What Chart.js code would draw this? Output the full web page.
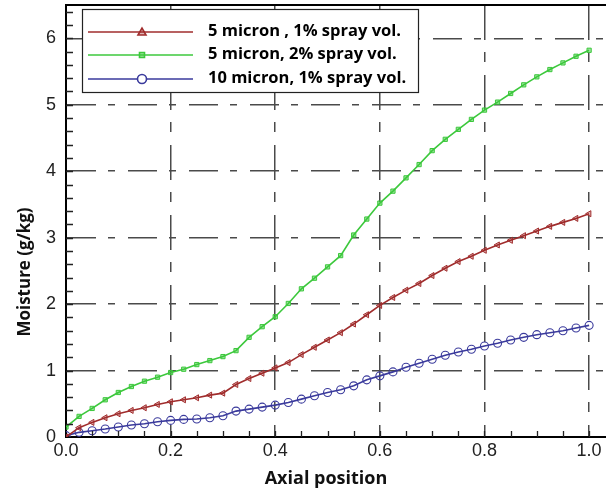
<!DOCTYPE html>
<html>
<head>
<meta charset="utf-8">
<script src="https://cdn.jsdelivr.net/npm/chart.js@4.4.1/dist/chart.umd.min.js"></script>
<style>
  html, body { margin: 0; padding: 0; background: #fff; overflow: hidden; }
  #wrap { width: 612px; height: 493px; }
</style>
</head>
<body>
<div id="wrap"><canvas id="moistureChart"></canvas></div>
<script>
// axial position of the samples (same for the three runs)
const axialPos = [0, 0.025, 0.05, 0.075, 0.1, 0.125, 0.15, 0.175, 0.2, 0.225,
  0.25, 0.275, 0.3, 0.325, 0.35, 0.375, 0.4, 0.425, 0.45, 0.475,
  0.5, 0.525, 0.55, 0.575, 0.6, 0.625, 0.65, 0.675, 0.7, 0.725,
  0.75, 0.775, 0.8, 0.825, 0.85, 0.875, 0.9, 0.925, 0.95, 0.975, 1.0];

// moisture in g/kg
const moist5um1pct = [0.00, 0.14, 0.22, 0.29, 0.35, 0.40, 0.44, 0.49, 0.53, 0.56,
  0.59, 0.63, 0.66, 0.79, 0.88, 0.96, 1.04, 1.12, 1.24, 1.35,
  1.46, 1.57, 1.70, 1.84, 1.98, 2.10, 2.21, 2.31, 2.43, 2.54,
  2.64, 2.72, 2.81, 2.89, 2.96, 3.03, 3.10, 3.17, 3.23, 3.29, 3.36];
const moist5um2pct = [0.15, 0.31, 0.43, 0.56, 0.67, 0.76, 0.84, 0.90, 0.97, 1.02,
  1.09, 1.15, 1.21, 1.30, 1.50, 1.66, 1.81, 2.01, 2.23, 2.39,
  2.56, 2.73, 3.04, 3.28, 3.52, 3.70, 3.90, 4.10, 4.31, 4.48,
  4.63, 4.78, 4.92, 5.04, 5.17, 5.30, 5.42, 5.53, 5.63, 5.73, 5.82];
const moist10um1pct = [0.02, 0.07, 0.095, 0.12, 0.15, 0.18, 0.20, 0.23, 0.25, 0.265,
  0.27, 0.29, 0.32, 0.39, 0.42, 0.45, 0.48, 0.52, 0.57, 0.62,
  0.67, 0.71, 0.77, 0.86, 0.92, 0.98, 1.05, 1.11, 1.17, 1.23,
  1.28, 1.32, 1.37, 1.41, 1.46, 1.50, 1.54, 1.57, 1.60, 1.64, 1.68];

const seriesNames = ['5 micron , 1% spray vol.', '5 micron, 2% spray vol.', '10 micron, 1% spray vol.'];
const xMajorTicks = [0, 0.2, 0.4, 0.6, 0.8, 1.0];
const yMajorTicks = [0, 1, 2, 3, 4, 5, 6];
const xTitle = 'Axial position';
const yTitle = 'Moisture (g/kg)';

const RED = '#a02c2c', GREEN = '#3cc83c', BLUE = '#3a3a9c';

function pts(ys) {
  return axialPos.map((x, i) => ({ x: x, y: ys[i] }));
}

// small inward ticks, top frame, titles and the boxed legend
const decorPlugin = {
  id: 'decor',
  afterDraw(chart) {
    const ctx = chart.ctx;
    const area = chart.chartArea;
    const xs = chart.scales.x, ys = chart.scales.y;
    ctx.save();
    ctx.strokeStyle = '#222';
    ctx.lineWidth = 1.3;
    ctx.beginPath();
    for (let v = 0.05; v < xs.max; v += 0.05) {
      const px = Math.round(xs.getPixelForValue(v)) + 0.5;
      ctx.moveTo(px, area.bottom);
      ctx.lineTo(px, area.bottom - 6);
    }
    for (let v = 0.2; v < ys.max; v += 0.2) {
      const py = Math.round(ys.getPixelForValue(v)) + 0.5;
      ctx.moveTo(area.left, py);
      ctx.lineTo(area.left + 7, py);
    }
    ctx.stroke();

    // top frame
    ctx.strokeStyle = '#000';
    ctx.lineWidth = 2;
    ctx.beginPath();
    ctx.moveTo(area.left, area.top);
    ctx.lineTo(area.right, area.top);
    ctx.stroke();

    // axis titles
    ctx.fillStyle = '#111';
    ctx.font = 'bold 18px "Open Sans"';
    ctx.textAlign = 'center';
    ctx.textBaseline = 'middle';
    ctx.fillText(xTitle, 326, 479);
    ctx.font = 'bold 17px "Open Sans"';
    ctx.translate(25, 272);
    ctx.rotate(-Math.PI / 2);
    ctx.fillText(yTitle, 0, 0);
    ctx.setTransform(1, 0, 0, 1, 0, 0);

    // legend
    const bx = 82, by = 9, bw = 336, bh = 83;
    ctx.fillStyle = '#fff';
    ctx.fillRect(bx, by, bw, bh);
    ctx.strokeStyle = '#222';
    ctx.lineWidth = 1.2;
    ctx.strokeRect(bx + 0.5, by + 0.5, bw, bh);
    const rows = [32, 55, 79];
    chart.data.datasets.forEach((ds, i) => {
      const y = rows[i];
      ctx.strokeStyle = ds.borderColor;
      ctx.lineWidth = 1.6;
      ctx.beginPath();
      ctx.moveTo(88, y);
      ctx.lineTo(193, y);
      ctx.stroke();
      ctx.fillStyle = ds.pointBackgroundColor;
      ctx.beginPath();
      if (ds.pointStyle === 'triangle') {
        ctx.moveTo(138, y + 3); ctx.lineTo(142, y - 4); ctx.lineTo(146, y + 3); ctx.closePath();
        ctx.fill(); ctx.stroke();
      } else if (ds.pointStyle === 'rect') {
        ctx.rect(139.5, y - 2.5, 5, 5);
        ctx.fill(); ctx.stroke();
      } else {
        ctx.fillStyle = '#fff';
        ctx.arc(142, y, 4.5, 0, Math.PI * 2);
        ctx.fill(); ctx.stroke();
      }
      ctx.fillStyle = '#000';
      ctx.font = 'bold 16.5px "Open Sans"';
      ctx.textAlign = 'left';
      ctx.textBaseline = 'middle';
      ctx.fillText(ds.label, 208, y - 1);
    });
    ctx.restore();
  }
};

const gridLine = { color: '#4a4a4a', lineWidth: 1.5, drawTicks: false, tickLength: 0 };
const tickFont = { family: '"Liberation Sans", Arial', size: 18 };

new Chart(document.getElementById('moistureChart'), {
  type: 'scatter',
  data: {
    datasets: [
      { label: seriesNames[0], data: pts(moist5um1pct), showLine: true, borderColor: RED,
        pointStyle: 'triangle', rotation: -90, pointRadius: 3.5, pointBorderWidth: 1,
        pointBackgroundColor: 'rgba(160,44,44,0.35)', borderWidth: 1.6 },
      { label: seriesNames[1], data: pts(moist5um2pct), showLine: true, borderColor: GREEN,
        pointStyle: 'rect', pointRadius: 3, pointBorderWidth: 1,
        pointBackgroundColor: 'rgba(60,200,60,0.5)', borderWidth: 1.6 },
      { label: seriesNames[2], data: pts(moist10um1pct), showLine: true, borderColor: BLUE,
        pointStyle: 'circle', pointRadius: 4, pointBorderWidth: 1.1,
        pointBackgroundColor: 'rgba(255,255,255,0)', borderWidth: 1.6 }
    ]
  },
  options: {
    responsive: true,
    maintainAspectRatio: false,
    animation: false,
    layout: { padding: { top: 5, right: 0, left: 0, bottom: 0 } },
    plugins: { legend: { display: false }, tooltip: { enabled: false } },
    scales: {
      x: {
        type: 'linear', min: 0, max: 1.034,
        afterBuildTicks: s => { s.ticks = xMajorTicks.map(v => ({ value: v })); },
        afterFit: s => { s.height = 56; s.paddingLeft = 0; s.paddingRight = 0; },
        grid: gridLine,
        border: { color: '#000', width: 2, dash: [35, 12, 10, 13] },
        ticks: { font: tickFont, color: '#222', padding: 3, maxRotation: 0,
                 callback: v => v.toFixed(1) }
      },
      y: {
        type: 'linear', min: 0, max: 6.5,
        afterBuildTicks: s => { s.ticks = yMajorTicks.map(v => ({ value: v })); },
        afterFit: s => { s.width = 66; s.paddingTop = 0; s.paddingBottom = 0; },
        grid: gridLine,
        border: { color: '#000', width: 2, dash: [29, 12, 7, 13] },
        ticks: { font: tickFont, color: '#222', padding: 10 }
      }
    }
  },
  plugins: [decorPlugin]
});
</script>
</body>
</html>
